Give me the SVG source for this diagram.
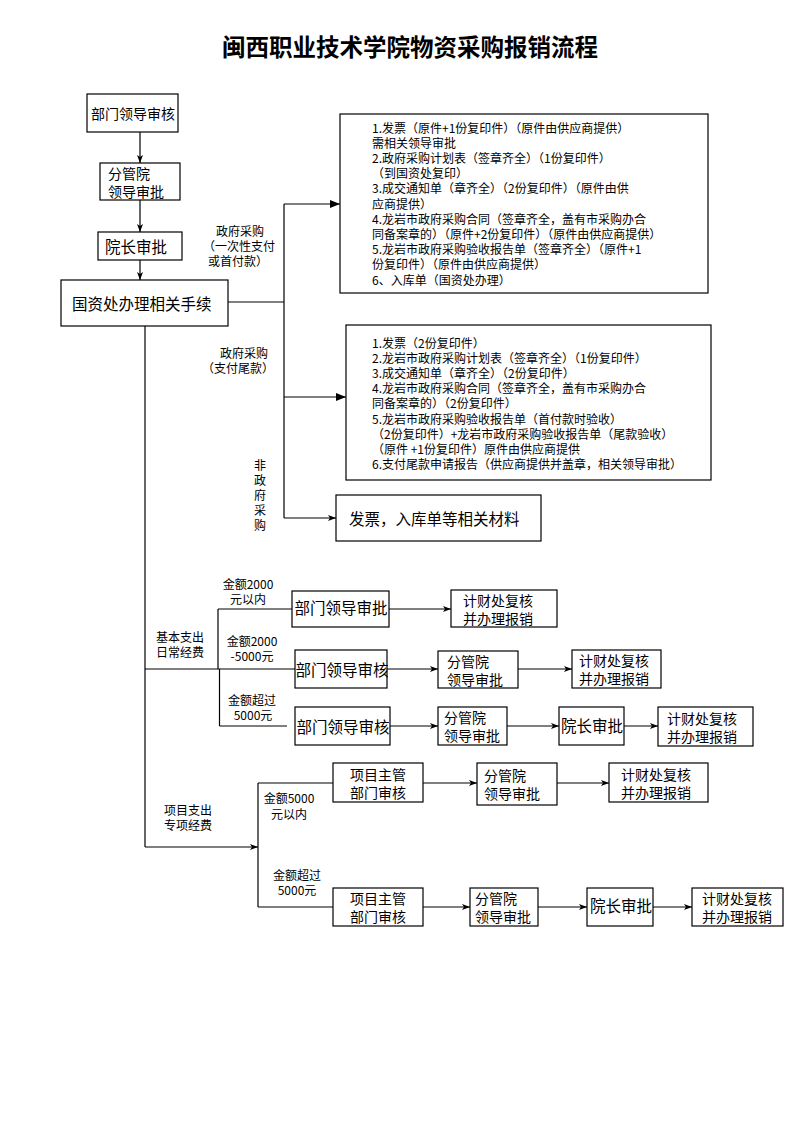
<svg xmlns="http://www.w3.org/2000/svg" width="794" height="1122" viewBox="0 0 794 1122">
<defs>
<style>
text{font-family:"Noto Sans CJK SC","Liberation Sans",sans-serif;fill:#000;dominant-baseline:central}
.title{font-size:23.5px;font-weight:bold;text-anchor:middle}
.b{font-size:15.5px}
.d{font-size:14px}
.dc{font-size:14px;text-anchor:middle}
.bc{font-size:15.5px;text-anchor:middle}
.s{font-size:14px;text-anchor:middle}
.l{font-size:12px;text-anchor:middle}
.t{font-size:12px}
rect{fill:#fff;stroke:#000;stroke-width:1.2}
.c line,.c path{stroke:#000;stroke-width:1.2;fill:none}
</style>
<marker id="a" viewBox="0 0 8 6" refX="8" refY="3" markerWidth="8" markerHeight="6" markerUnits="userSpaceOnUse" orient="auto">
<path d="M0,0 L8,3 L0,6 L2,3 z" fill="#000"/>
</marker>
<marker id="A" viewBox="0 0 10 8" refX="10" refY="4" markerWidth="10" markerHeight="8" markerUnits="userSpaceOnUse" orient="auto">
<path d="M0,0 L10,4 L0,8 z" fill="#000"/>
</marker>
</defs>
<rect x="0" y="0" width="794" height="1122" style="fill:#fff;stroke:none"/>
<text class="title" x="410" y="45.5">闽西职业技术学院物资采购报销流程</text>

<g class="c" id="connectors">
<line x1="140" y1="132" x2="140" y2="163" marker-end="url(#a)"/>
<line x1="140" y1="200" x2="140" y2="232" marker-end="url(#a)"/>
<line x1="140" y1="260" x2="140" y2="280" marker-end="url(#a)"/>
<line x1="228" y1="302" x2="284" y2="302"/>
<line x1="284" y1="204" x2="284" y2="518"/>
<line x1="284" y1="204" x2="340" y2="204" marker-end="url(#A)"/>
<line x1="284" y1="397" x2="346" y2="397" marker-end="url(#A)"/>
<line x1="284" y1="518" x2="336" y2="518" marker-end="url(#a)"/>
<line x1="145" y1="326" x2="145" y2="847"/>
<line x1="145" y1="847" x2="258" y2="847" marker-end="url(#a)"/>
<line x1="145" y1="669" x2="295" y2="669"/>
<line x1="218" y1="609" x2="218" y2="669"/>
<line x1="219.5" y1="669" x2="219.5" y2="726"/>
<line x1="218" y1="609" x2="292" y2="609"/>
<line x1="219.5" y1="726" x2="287" y2="726"/>
<line x1="389" y1="609" x2="451" y2="609" marker-end="url(#a)"/>
<line x1="387" y1="669" x2="438" y2="669" marker-end="url(#a)"/>
<line x1="518" y1="669" x2="572" y2="669" marker-end="url(#a)"/>
<line x1="390" y1="726" x2="438" y2="726" marker-end="url(#a)"/>
<line x1="507" y1="726" x2="559" y2="726" marker-end="url(#a)"/>
<line x1="624" y1="726" x2="658" y2="726" marker-end="url(#a)"/>
<line x1="258" y1="783" x2="258" y2="907"/>
<line x1="258" y1="783" x2="333" y2="783"/>
<line x1="258" y1="907" x2="333" y2="907"/>
<line x1="423" y1="783" x2="477" y2="783" marker-end="url(#a)"/>
<line x1="557" y1="783" x2="609" y2="783" marker-end="url(#a)"/>
<line x1="423" y1="907" x2="470" y2="907" marker-end="url(#a)"/>
<line x1="538" y1="907" x2="587" y2="907" marker-end="url(#a)"/>
<line x1="653" y1="907" x2="692" y2="907" marker-end="url(#a)"/>
</g>

<g id="labels">
<text class="l" x="240" y="230">政府采购</text>
<text class="l" x="239" y="245">（一次性支付</text>
<text class="l" x="238" y="260">或首付款）</text>
<text class="l" x="244" y="352">政府采购</text>
<text class="l" x="238" y="367">（支付尾款）</text>
<text class="l" x="260" y="464">非</text>
<text class="l" x="260" y="479">政</text>
<text class="l" x="260" y="494">府</text>
<text class="l" x="260" y="509">采</text>
<text class="l" x="260" y="524">购</text>
<text class="l" x="180" y="636">基本支出</text>
<text class="l" x="180" y="651">日常经费</text>
<text class="l" x="248" y="583">金额2000</text>
<text class="l" x="248" y="598">元以内</text>
<text class="l" x="252" y="640">金额2000</text>
<text class="l" x="252" y="655">-5000元</text>
<text class="l" x="252" y="699">金额超过</text>
<text class="l" x="253" y="714">5000元</text>
<text class="l" x="188" y="809">项目支出</text>
<text class="l" x="188" y="824">专项经费</text>
<text class="l" x="289" y="797">金额5000</text>
<text class="l" x="289" y="813">元以内</text>
<text class="l" x="297" y="874">金额超过</text>
<text class="l" x="297" y="889">5000元</text>
</g>

<g id="n1"><rect x="87" y="94" width="91" height="38"/><text class="s" x="133" y="113">部门领导审核</text></g>
<g id="n2"><rect x="100" y="163" width="80" height="37"/><text class="d" x="108" y="172.5">分管院</text><text class="d" x="108" y="190.5">领导审批</text></g>
<g id="n3"><rect x="98" y="232" width="84" height="28"/><text class="b" x="105" y="246">院长审批</text></g>
<g id="n4"><rect x="61" y="280" width="167" height="46"/><text class="b" x="72" y="303">国资处办理相关手续</text></g>

<g id="n5"><rect x="340" y="114" width="368" height="179"/>
<text class="t" x="372" y="127">1.发票（原件+1份复印件）（原件由供应商提供）</text>
<text class="t" x="372" y="142.2">需相关领导审批</text>
<text class="t" x="372" y="157.4">2.政府采购计划表（签章齐全）（1份复印件）</text>
<text class="t" x="372" y="172.6">（到国资处复印）</text>
<text class="t" x="372" y="187.8">3.成交通知单（章齐全）（2份复印件）（原件由供</text>
<text class="t" x="372" y="203">应商提供）</text>
<text class="t" x="372" y="218.2">4.龙岩市政府采购合同（签章齐全，盖有市采购办合</text>
<text class="t" x="372" y="233.4">同备案章的）（原件+2份复印件）（原件由供应商提供）</text>
<text class="t" x="372" y="248.6">5.龙岩市政府采购验收报告单（签章齐全）（原件+1</text>
<text class="t" x="372" y="263.8">份复印件）（原件由供应商提供）</text>
<text class="t" x="372" y="279">6、入库单（国资处办理）</text>
</g>

<g id="n6"><rect x="346" y="325" width="365" height="155"/>
<text class="t" x="372" y="342">1.发票（2份复印件）</text>
<text class="t" x="372" y="357.2">2.龙岩市政府采购计划表（签章齐全）（1份复印件）</text>
<text class="t" x="372" y="372.4">3.成交通知单（章齐全）（2份复印件）</text>
<text class="t" x="372" y="387.6">4.龙岩市政府采购合同（签章齐全，盖有市采购办合</text>
<text class="t" x="372" y="402.8">同备案章的）（2份复印件）</text>
<text class="t" x="372" y="418">5.龙岩市政府采购验收报告单（首付款时验收）</text>
<text class="t" x="372" y="433.2">（2份复印件）+龙岩市政府采购验收报告单（尾款验收）</text>
<text class="t" x="372" y="448.4">（原件 +1份复印件）原件由供应商提供</text>
<text class="t" x="372" y="463.6">6.支付尾款申请报告（供应商提供并盖章，相关领导审批）</text>
</g>

<g id="n7"><rect x="336" y="495" width="205" height="46"/><text class="b" x="349" y="518">发票，入库单等相关材料</text></g>

<g id="r1a"><rect x="292" y="591" width="97" height="36"/><text class="bc" x="341" y="607">部门领导审批</text></g>
<g id="r1b"><rect x="451" y="590" width="106" height="37"/><text class="d" x="463" y="599.5">计财处复核</text><text class="d" x="463" y="617.5">并办理报销</text></g>

<g id="r2a"><rect x="295" y="650" width="92" height="38"/><text class="bc" x="342" y="669">部门领导审核</text></g>
<g id="r2b"><rect x="438" y="651" width="80" height="37"/><text class="d" x="447" y="660.5">分管院</text><text class="d" x="447" y="678.5">领导审批</text></g>
<g id="r2c"><rect x="572" y="650" width="89" height="38"/><text class="d" x="579" y="660">计财处复核</text><text class="d" x="579" y="678">并办理报销</text></g>

<g id="r3a"><rect x="295" y="707" width="95" height="38"/><text class="bc" x="343" y="726">部门领导审核</text></g>
<g id="r3b"><rect x="438" y="707" width="69" height="38"/><text class="d" x="444" y="717">分管院</text><text class="d" x="444" y="735">领导审批</text></g>
<g id="r3c"><rect x="559" y="707" width="65" height="38"/><text class="b" x="561" y="725">院长审批</text></g>
<g id="r3d"><rect x="658" y="707" width="95" height="39"/><text class="d" x="667" y="717.5">计财处复核</text><text class="d" x="667" y="735.5">并办理报销</text></g>

<g id="p1a"><rect x="333" y="763" width="90" height="39"/><text class="dc" x="378" y="773.5">项目主管</text><text class="dc" x="378" y="791.5">部门审核</text></g>
<g id="p1b"><rect x="477" y="763" width="80" height="42"/><text class="d" x="484" y="775">分管院</text><text class="d" x="484" y="793">领导审批</text></g>
<g id="p1c"><rect x="609" y="763" width="99" height="39"/><text class="d" x="621" y="773.5">计财处复核</text><text class="d" x="621" y="791.5">并办理报销</text></g>

<g id="p2a"><rect x="333" y="888" width="90" height="38"/><text class="dc" x="378" y="898">项目主管</text><text class="dc" x="378" y="916">部门审核</text></g>
<g id="p2b"><rect x="470" y="888" width="68" height="38"/><text class="d" x="475" y="898">分管院</text><text class="d" x="475" y="916">领导审批</text></g>
<g id="p2c"><rect x="587" y="888" width="66" height="38"/><text class="b" x="590" y="905">院长审批</text></g>
<g id="p2d"><rect x="692" y="888" width="91" height="38"/><text class="d" x="702" y="898">计财处复核</text><text class="d" x="702" y="916">并办理报销</text></g>
</svg>
